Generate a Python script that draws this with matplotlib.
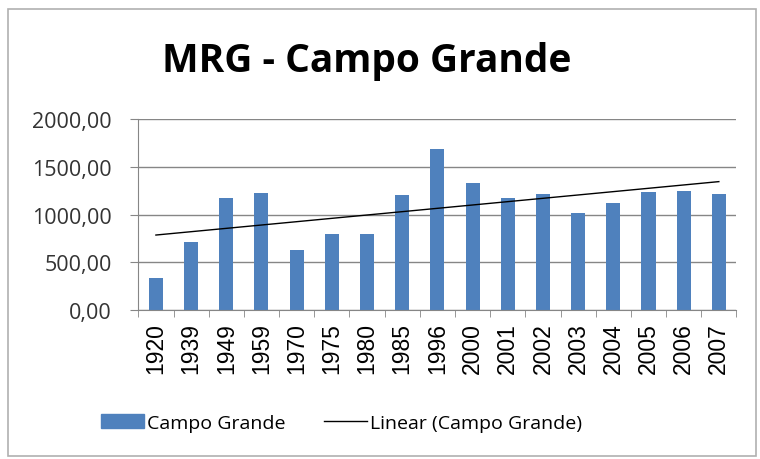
import numpy as np
import matplotlib.pyplot as plt
from matplotlib.patches import Rectangle, Patch
from matplotlib.lines import Line2D
from matplotlib.ticker import FuncFormatter, FixedLocator

years = ['1920', '1939', '1949', '1959', '1970', '1975', '1980', '1985', '1996',
         '2000', '2001', '2002', '2003', '2004', '2005', '2006', '2007']
values = [340, 707, 1175, 1221, 626, 801, 801, 1203, 1686,
          1326, 1175, 1214, 1014, 1119, 1231, 1245, 1217]
series_name = 'Campo Grande'
title = 'MRG - Campo Grande'

bar_color = '#4F81BD'
grid_color = '#868686'

fig = plt.figure(figsize=(7.6, 4.6), dpi=100)
ax = fig.add_axes([0.182, 0.324, 0.787, 0.415])

x = np.arange(len(years))
ax.bar(x, values, width=0.4, color=bar_color, zorder=2)

# excel style linear trendline
slope, icpt = np.polyfit(x + 1, values, 1)
ax.plot(x, slope * (x + 1) + icpt, color='black', lw=1, zorder=3)

ax.set_xlim(-0.5, len(years) - 0.5)
ax.set_ylim(0, 2000)
ax.set_yticks(np.arange(0, 2001, 500))
ax.yaxis.set_major_formatter(FuncFormatter(lambda v, p: f'{v:.2f}'.replace('.', ',')))
ax.grid(axis='y', color=grid_color, lw=1, zorder=0)

ax.set_xticks(x)
ax.set_xticklabels(years, rotation=90, fontsize=16.5, family='Liberation Sans')
ax.xaxis.set_minor_locator(FixedLocator(np.arange(-0.5, len(years), 1)))
ax.tick_params(axis='x', which='major', length=0, pad=9)
ax.tick_params(axis='x', which='minor', length=5, color=grid_color)
ax.tick_params(axis='y', length=6, color=grid_color, pad=13)
for lab in ax.get_yticklabels():
    lab.set_family('Open Sans')
    lab.set_fontsize(15.5)
    lab.set_color('#333333')

for s in ['top', 'right']:
    ax.spines[s].set_visible(False)
ax.spines['left'].set_color(grid_color)
ax.spines['bottom'].set_color(grid_color)

fig.text(0.482, 0.866, title, ha='center', va='center', fontsize=28,
         fontweight='bold', family='Open Sans')

handles = [Patch(color=bar_color), Line2D([0], [0], color='black', lw=1)]
fig.legend(handles, [series_name, f'Linear ({series_name})'], loc='center',
           bbox_to_anchor=(0.449, 1 - 424 / 460), ncol=2, frameon=False,
           prop={'family': 'Open Sans', 'size': 14}, handlelength=2.2,
           handleheight=0.7, handletextpad=0.15, columnspacing=2.0)

fig.patches.append(Rectangle((0.011, 0.006), 0.984, 0.972, transform=fig.transFigure,
                             fill=False, edgecolor='#b0b0b0', lw=1.2))

fig.savefig('out.png', dpi=100)
